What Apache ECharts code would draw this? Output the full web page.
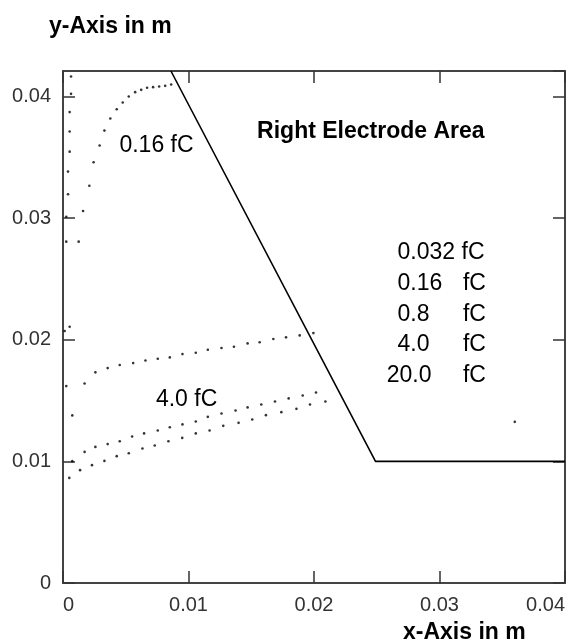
<!DOCTYPE html>
<html>
<head>
<meta charset="utf-8">
<script src="https://cdn.jsdelivr.net/npm/echarts@6/dist/echarts.min.js"></script>
<style>
  html, body { margin: 0; padding: 0; background: #fff; }
  #main { width: 574px; height: 641px; }
</style>
</head>
<body>
<div id="main"></div>
<script>
// electrode boundary (m)
var electrode = [[0.0086, 0.0421], [0.0249, 0.01], [0.04, 0.01]];

// trajectories (m)
var trajAxis = [
  [0.00064, 0.04165], [0.00064, 0.04022], [0.00053, 0.03872], [0.00053, 0.03712],
  [0.00053, 0.03547], [0.0004, 0.03383], [0.0004, 0.03197], [0.00026, 0.03012],
  [0.00026, 0.02807], [0.00053, 0.02107], [0.00013, 0.02072], [0.00026, 0.01619],
  [0.00074, 0.01378]
];
var traj016 = [
  [0.00125, 0.02807], [0.0016, 0.03059], [0.0021, 0.03267], [0.00244, 0.0346],
  [0.00292, 0.03597], [0.0033, 0.0372], [0.00377, 0.03819], [0.00428, 0.03896],
  [0.00476, 0.03951], [0.00524, 0.04], [0.00575, 0.04036], [0.00623, 0.04055],
  [0.0067, 0.04072], [0.00718, 0.04077], [0.00766, 0.04082], [0.00814, 0.04088],
  [0.00862, 0.04099]
];
var trajUpper = [
  [0.00172, 0.01641], [0.00258, 0.01732], [0.00356, 0.01767], [0.00452, 0.01792],
  [0.00559, 0.01808], [0.00657, 0.0183], [0.00755, 0.01844], [0.00851, 0.01855],
  [0.00952, 0.01882], [0.01058, 0.01893], [0.01154, 0.01918], [0.01263, 0.01932],
  [0.01362, 0.01942], [0.01471, 0.0197], [0.01567, 0.01979], [0.01676, 0.02006],
  [0.01777, 0.0202], [0.01886, 0.02036], [0.01995, 0.02055]
];
var trajMiddle = [
  [0.00074, 0.01002], [0.00172, 0.01078], [0.00258, 0.01119], [0.00356, 0.01142],
  [0.00452, 0.01166], [0.00551, 0.01205], [0.00646, 0.0123], [0.00755, 0.01254],
  [0.00851, 0.01281], [0.00952, 0.01304], [0.01058, 0.01328], [0.01154, 0.01366],
  [0.01263, 0.01394], [0.01375, 0.01419], [0.01471, 0.01444], [0.0158, 0.01468],
  [0.01689, 0.01493], [0.01798, 0.01518], [0.0191, 0.01542], [0.02016, 0.01567]
];
var trajLower = [
  [0.0005, 0.00864], [0.00136, 0.00928], [0.00231, 0.00969], [0.0033, 0.01004],
  [0.00428, 0.01043], [0.00524, 0.01067], [0.00633, 0.01106], [0.00731, 0.01131],
  [0.0084, 0.01166], [0.0095, 0.01193], [0.01058, 0.0123], [0.01168, 0.01254],
  [0.01277, 0.01292], [0.01399, 0.01317], [0.01508, 0.01345], [0.01617, 0.0138],
  [0.0174, 0.01405], [0.0186, 0.01432], [0.01968, 0.01468], [0.02091, 0.01493]
];
var strayDot = [[0.036, 0.01325]];

// text in the plot, anchored in data units
var notes = [
  { text: 'Right Electrode Area', x: 0.02453, y: 0.0371, align: 'center', bold: true },
  { text: '0.16 fC', x: 0.00745, y: 0.036, align: 'center' },
  { text: '4.0 fC', x: 0.00985, y: 0.0151, align: 'center' }
];
var chargeNames = ['0.032 fC', '0.16', '0.8', '4.0', '20.0'];
var chargeX = [0.02666, 0.02666, 0.02666, 0.02666, 0.0258];
var chargeY = [0.02714, 0.02464, 0.02209, 0.01956, 0.01709];
var unitX = 0.03187;

var chart = echarts.init(document.getElementById('main'));

var frameLine = { show: true, onZero: false, lineStyle: { color: '#444', width: 2 } };
var innerTick = { show: true, inside: true, length: 12, lineStyle: { color: '#333', width: 1.5 } };
var tickFont = { fontFamily: 'Liberation Sans, Arial', fontSize: 20, color: '#333' };

function dots(data) {
  return {
    type: 'scatter', data: data, symbolSize: 2.6, silent: true,
    itemStyle: { color: '#000' }
  };
}

var option = {
  backgroundColor: '#fff',
  animation: false,
  title: [
    { text: 'y-Axis in m', left: 44, top: 10,
      textStyle: { fontFamily: 'Liberation Sans', fontSize: 23, fontWeight: 'bold', color: '#000' } },
    { text: 'x-Axis in m', left: 398, top: 616,
      textStyle: { fontFamily: 'Liberation Sans', fontSize: 23, fontWeight: 'bold', color: '#000' } }
  ],
  grid: { left: 63, right: 9, top: 71, bottom: 58, containLabel: false },
  xAxis: [
    { type: 'value', position: 'bottom', min: 0, max: 0.04, interval: 0.01,
      axisLine: frameLine, axisTick: innerTick, splitLine: { show: false },
      axisLabel: Object.assign({ margin: 12, alignMinLabel: 'left', alignMaxLabel: 'right' }, tickFont) },
    { type: 'value', position: 'top', min: 0, max: 0.04, interval: 0.01,
      axisLine: frameLine, axisTick: innerTick, splitLine: { show: false },
      axisLabel: { show: false } }
  ],
  yAxis: [
    { type: 'value', position: 'left', min: 0, max: 0.0421, interval: 0.01,
      axisLine: frameLine, axisTick: innerTick, splitLine: { show: false },
      axisLabel: Object.assign({ margin: 12, showMaxLabel: false }, tickFont) },
    { type: 'value', position: 'right', min: 0, max: 0.0421, interval: 0.01,
      axisLine: frameLine, axisTick: innerTick, splitLine: { show: false },
      axisLabel: { show: false } }
  ],
  series: [
    { type: 'line', data: electrode, symbol: 'none', silent: true,
      lineStyle: { color: '#000', width: 1.6 } },
    dots(trajAxis), dots(traj016), dots(trajUpper), dots(trajMiddle), dots(trajLower), dots(strayDot)
  ]
};
chart.setOption(option);

// place the in-plot text through the axes
function textAt(str, x, y, align, bold) {
  var p = chart.convertToPixel({ gridIndex: 0 }, [x, y]);
  return {
    type: 'text', x: p[0], y: p[1], silent: true,
    style: {
      text: str, fill: '#000', align: align, verticalAlign: 'middle',
      font: (bold ? 'bold ' : '') + '23px "Liberation Sans", Arial'
    }
  };
}
var texts = [];
notes.forEach(function (n) {
  texts.push(textAt(n.text, n.x, n.y, n.align, n.bold));
});
chargeNames.forEach(function (c, i) {
  texts.push(textAt(c, chargeX[i], chargeY[i], 'left', false));
  if (i > 0) texts.push(textAt('fC', unitX, chargeY[i], 'left', false));
});
chart.setOption({ graphic: texts });
</script>
</body>
</html>
